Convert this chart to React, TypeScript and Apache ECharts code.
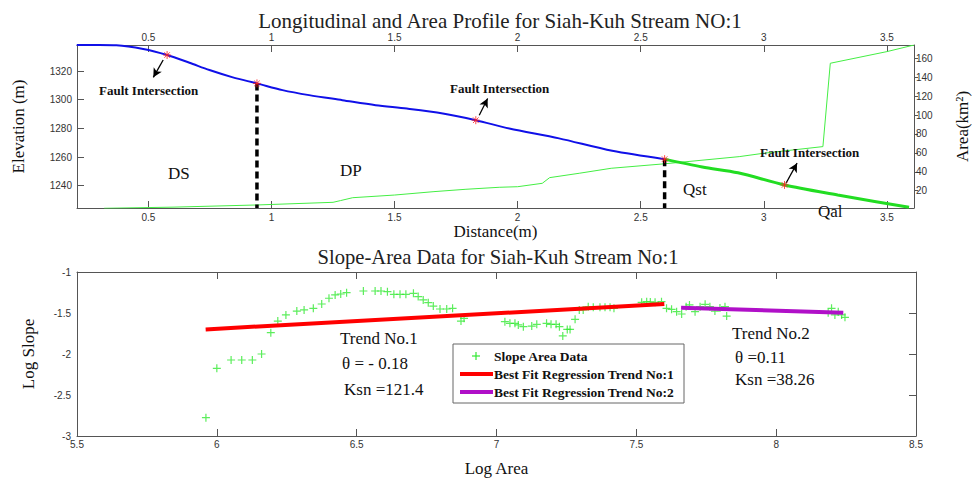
import React, { useEffect, useRef } from "react";
import * as echarts from "echarts";

// ---------- Top panel data ----------
const profileDist = [0.209, 0.3, 0.37, 0.479, 0.576, 0.667, 0.748, 0.843, 0.941, 1.045, 1.153, 1.288, 1.423, 1.55, 1.696, 1.83, 1.966, 2.168, 2.384, 2.597];
const profileElev = [1338.2, 1338.2, 1338.0, 1335.4, 1331.2, 1325.8, 1320.7, 1315.6, 1311.4, 1306.7, 1303.2, 1299.7, 1296.2, 1293.8, 1290.4, 1285.7, 1279.9, 1273.0, 1264.3, 1258.5];
const lowerDist = [2.597, 2.75, 2.895, 3.084, 3.3, 3.45, 3.59];
const lowerElev = [1258.5, 1253.0, 1249.0, 1240.5, 1233.5, 1229.0, 1224.9];
const areaDist = [0.32, 0.6, 0.94, 1.25, 1.28, 1.33, 1.5, 1.66, 1.79, 1.925, 2.0, 2.1, 2.13, 2.25, 2.38, 2.6, 2.9, 3.0, 3.24, 3.27, 3.5, 3.61];
const areaVal = [1.4, 2.6, 4.9, 7.7, 9.5, 12.6, 15.4, 19.0, 21.5, 23.6, 24.2, 27.8, 33.8, 38.4, 43.7, 48.5, 56.0, 59.6, 66.6, 154.7, 167.0, 174.0];
const faultDist = [0.576, 0.941, 1.83, 2.597, 3.084];
const faultElev = [1331.2, 1311.4, 1285.7, 1258.5, 1240.5];
const boundaryDist = [0.941, 2.597];
const boundaryElev = [1311.4, 1258.5];
const distTicks = [0.5, 1, 1.5, 2, 2.5, 3, 3.5];
const elevTicks = [1240, 1260, 1280, 1300, 1320];
const areaTicks = [20, 40, 60, 80, 100, 120, 140, 160];
// arrows: [fromDist, fromElev, toDist, toElev]
const arrows = [
  [0.56, 1327.7, 0.52, 1315.6],
  [1.844, 1289.2, 1.878, 1300.9],
  [3.09, 1241.7, 3.135, 1255.7],
];

// ---------- Bottom panel data ----------
const logArea = [5.961, 6.0, 6.051, 6.089, 6.127, 6.16, 6.193, 6.218, 6.247, 6.286, 6.312, 6.345, 6.375, 6.401, 6.423, 6.443, 6.464, 6.524, 6.566, 6.587, 6.61, 6.633, 6.655, 6.676, 6.703, 6.72, 6.738, 6.756, 6.774, 6.798, 6.822, 6.843, 6.873, 6.884, 7.03, 7.048, 7.066, 7.078, 7.096, 7.126, 7.144, 7.179, 7.195, 7.213, 7.225, 7.237, 7.253, 7.263, 7.281, 7.296, 7.31, 7.328, 7.346, 7.37, 7.388, 7.406, 7.42, 7.519, 7.537, 7.55, 7.567, 7.59, 7.608, 7.626, 7.644, 7.662, 7.678, 7.69, 7.71, 7.728, 7.746, 7.763, 7.781, 7.799, 7.817, 7.823, 8.186, 8.198, 8.21, 8.222, 8.234, 8.246];
const logSlope = [-2.777, -2.175, -2.073, -2.073, -2.073, -2.0, -1.74, -1.598, -1.524, -1.476, -1.463, -1.443, -1.39, -1.32, -1.28, -1.268, -1.252, -1.232, -1.232, -1.232, -1.24, -1.272, -1.272, -1.272, -1.26, -1.3, -1.34, -1.374, -1.415, -1.451, -1.451, -1.443, -1.598, -1.565, -1.606, -1.626, -1.626, -1.646, -1.667, -1.659, -1.638, -1.626, -1.638, -1.638, -1.667, -1.78, -1.7, -1.7, -1.577, -1.463, -1.463, -1.423, -1.43, -1.43, -1.43, -1.43, -1.443, -1.37, -1.362, -1.365, -1.37, -1.362, -1.443, -1.455, -1.484, -1.512, -1.423, -1.402, -1.484, -1.423, -1.394, -1.423, -1.476, -1.44, -1.423, -1.537, -1.496, -1.443, -1.524, -1.484, -1.524, -1.553];
const trend1X = [5.96, 7.6];
const trend1Y = [-1.7, -1.39];
const trend2X = [7.66, 8.24];
const trend2Y = [-1.435, -1.496];
const legendNames = ["Slope Area Data", "Best Fit Regression Trend No:1", "Best Fit Regression Trend No:2"];

const SERIF = "'Liberation Serif', 'Times New Roman', serif";
const SANS = "'Liberation Sans', Arial, sans-serif";
const AXIS_COLOR = "#555";
const LABEL_COLOR = "#333";
const GREEN_PTS = "#33e833";
const RED = "#ff0000";
const PURPLE = "#b010c8";

const ASTERISK = "path://M0,5L10,5M5,0L5,10M1.5,1.5L8.5,8.5M8.5,1.5L1.5,8.5";
const PLUS = "path://M0,5L10,5M5,0L5,10";

const zip = (a: number[], b: number[]) => a.map((v, i) => [v, b[i]]);

export default function App() {
  const ref = useRef<HTMLDivElement>(null);
  useEffect(() => {
    document.body.style.margin = "0";
    if (!ref.current) return;
    const chart = echarts.init(ref.current, undefined, { renderer: "svg" });
    const elevMin = 1224.4, elevMax = 1338.2;

    const axisLine = { show: true, lineStyle: { color: AXIS_COLOR, width: 1 } };
    const fmt = (v: number) => String(v);
    const lbl = { color: LABEL_COLOR, fontSize: 10, fontFamily: SANS, formatter: fmt };
    const nameStyle = { fontFamily: SERIF, fontSize: 17, color: "#111" };

    const text = (t: string, x: number, y: number, size: number, bold = false) => ({
      type: "text",
      x,
      y,
      z: 100,
      style: {
        text: t,
        fill: "#111",
        font: `${bold ? "bold " : ""}${size}px ${SERIF}`,
        textAlign: "left",
        textVerticalAlign: "middle",
      },
    });

    // legend drawn as graphic
    const lgX = 453, lgY = 344, lgW = 231, lgH = 59;
    const rowY = [356, 374, 392];
    const legendGraphic: any[] = [
      { type: "rect", z: 99, shape: { x: lgX, y: lgY, width: lgW, height: lgH }, style: { fill: "#fff", stroke: "#666", lineWidth: 1 } },
      { type: "line", z: 100, shape: { x1: 472, y1: rowY[0], x2: 480, y2: rowY[0] }, style: { stroke: GREEN_PTS, lineWidth: 1.2 } },
      { type: "line", z: 100, shape: { x1: 476, y1: rowY[0] - 4, x2: 476, y2: rowY[0] + 4 }, style: { stroke: GREEN_PTS, lineWidth: 1.2 } },
      { type: "line", z: 100, shape: { x1: 460, y1: rowY[1], x2: 493, y2: rowY[1] }, style: { stroke: RED, lineWidth: 4 } },
      { type: "line", z: 100, shape: { x1: 460, y1: rowY[2], x2: 493, y2: rowY[2] }, style: { stroke: PURPLE, lineWidth: 4 } },
      ...legendNames.map((n, i) => text(n, 494, rowY[i], 13.5, true)),
    ];

    const option: any = {
      animation: false,
      backgroundColor: "#fff",
      title: [
        {
          text: "Longitudinal and Area Profile for Siah-Kuh Stream NO:1",
          left: 495,
          top: 5,
          textAlign: "center",
          textStyle: { fontFamily: SERIF, fontSize: 21, fontWeight: "normal", color: "#222" },
        },
        {
          text: "Slope-Area Data for Siah-Kuh Stream No:1",
          left: 493,
          top: 241,
          textAlign: "center",
          textStyle: { fontFamily: SERIF, fontSize: 20.6, fontWeight: "normal", color: "#222" },
        },
      ],
      grid: [
        { left: 77, top: 45, width: 838, height: 163 },
        { left: 77, top: 272, width: 839, height: 164 },
      ],
      xAxis: [
        {
          gridIndex: 0, type: "value", position: "bottom", min: 0.21, max: 3.61,
          name: "Distance(m)", nameLocation: "middle", nameGap: 12, nameTextStyle: nameStyle,
          axisLine, splitLine: { show: false },
          axisTick: { show: true, inside: true, length: 7, customValues: distTicks, lineStyle: { color: AXIS_COLOR } },
          axisLabel: { ...lbl, margin: 4, customValues: distTicks },
        },
        {
          gridIndex: 0, type: "value", position: "top", min: 0.21, max: 3.61,
          axisLine, splitLine: { show: false },
          axisTick: { show: true, inside: true, length: 7, customValues: distTicks, lineStyle: { color: AXIS_COLOR } },
          axisLabel: { ...lbl, margin: 3, customValues: distTicks },
        },
        {
          gridIndex: 1, type: "value", position: "bottom", min: 5.5, max: 8.5, interval: 0.5,
          name: "Log Area", nameLocation: "middle", nameGap: 24, nameTextStyle: nameStyle,
          axisLine, splitLine: { show: false },
          axisTick: { show: true, inside: true, length: 7, lineStyle: { color: AXIS_COLOR } },
          axisLabel: { ...lbl, margin: 3 },
        },
        {
          gridIndex: 1, type: "value", position: "top", min: 5.5, max: 8.5, interval: 0.5,
          axisLine, splitLine: { show: false },
          axisTick: { show: true, inside: true, length: 7, lineStyle: { color: AXIS_COLOR } },
          axisLabel: { show: false },
        },
      ],
      yAxis: [
        {
          gridIndex: 0, type: "value", position: "left", min: elevMin, max: elevMax,
          name: "Elevation (m)", nameLocation: "middle", nameGap: 50, nameRotate: 90, nameTextStyle: nameStyle,
          axisLine, splitLine: { show: false },
          axisTick: { show: true, inside: true, length: 7, customValues: elevTicks, lineStyle: { color: AXIS_COLOR } },
          axisLabel: { ...lbl, margin: 5, customValues: elevTicks },
        },
        {
          gridIndex: 0, type: "value", position: "right", min: 1.7, max: 174,
          name: "Area(km²)", nameLocation: "middle", nameGap: 40, nameRotate: 90, nameTextStyle: nameStyle,
          axisLine, splitLine: { show: false },
          axisTick: { show: true, inside: false, length: 4, customValues: areaTicks, lineStyle: { color: AXIS_COLOR } },
          axisLabel: { ...lbl, margin: 2, customValues: areaTicks },
        },
        {
          gridIndex: 1, type: "value", position: "left", min: -3, max: -1, interval: 0.5,
          name: "Log Slope", nameLocation: "middle", nameGap: 40, nameRotate: 90, nameTextStyle: nameStyle,
          axisLine, splitLine: { show: false },
          axisTick: { show: false },
          axisLabel: { ...lbl, margin: 6 },
        },
        {
          gridIndex: 1, type: "value", position: "right", min: -3, max: -1, interval: 0.5,
          axisLine, splitLine: { show: false },
          axisTick: { show: true, inside: true, length: 7, lineStyle: { color: AXIS_COLOR } },
          axisLabel: { show: false },
        },
      ],
      series: [
        {
          type: "line", name: "Area", xAxisIndex: 0, yAxisIndex: 1,
          data: zip(areaDist, areaVal), showSymbol: false,
          lineStyle: { color: "#44ee44", width: 1 }, z: 2,
        },
        {
          type: "line", name: "Profile", xAxisIndex: 0, yAxisIndex: 0,
          data: zip(profileDist, profileElev), showSymbol: false, smooth: 0.3,
          lineStyle: { color: "#1010e8", width: 2 }, z: 3,
        },
        {
          type: "line", name: "ProfileLower", xAxisIndex: 0, yAxisIndex: 0,
          data: zip(lowerDist, lowerElev), showSymbol: false, smooth: 0.3,
          lineStyle: { color: "#22dd22", width: 3 }, z: 3,
        },
        ...boundaryDist.map((d, i) => ({
          type: "line", name: "Boundary" + i, xAxisIndex: 0, yAxisIndex: 0,
          data: [[d, boundaryElev[i]], [d, elevMin]], showSymbol: false,
          lineStyle: { color: "#000", width: 3.5, type: [7, 4] }, z: 4,
        })),
        {
          type: "scatter", name: "Faults", xAxisIndex: 0, yAxisIndex: 0,
          data: zip(faultDist, faultElev), symbol: ASTERISK, symbolSize: 8,
          itemStyle: { color: "rgba(0,0,0,0)", borderColor: "#ff2020", borderWidth: 1 }, z: 6,
          markLine: {
            silent: true,
            symbol: ["none", "arrow"],
            symbolSize: [7, 9],
            label: { show: false },
            lineStyle: { color: "#000", width: 1.3, type: "solid" },
            data: arrows.map((a) => [{ coord: [a[0], a[1]] }, { coord: [a[2], a[3]] }]),
          },
        },
        {
          type: "scatter", name: legendNames[0], xAxisIndex: 2, yAxisIndex: 2,
          data: zip(logArea, logSlope), symbol: PLUS, symbolSize: 8,
          itemStyle: { color: "rgba(0,0,0,0)", borderColor: GREEN_PTS, borderWidth: 1.2 }, z: 3,
        },
        {
          type: "line", name: legendNames[1], xAxisIndex: 2, yAxisIndex: 2,
          data: zip(trend1X, trend1Y), showSymbol: false,
          lineStyle: { color: RED, width: 4 }, itemStyle: { color: RED }, z: 4,
        },
        {
          type: "line", name: legendNames[2], xAxisIndex: 2, yAxisIndex: 2,
          data: zip(trend2X, trend2Y), showSymbol: false,
          lineStyle: { color: PURPLE, width: 4 }, itemStyle: { color: PURPLE }, z: 4,
        },
      ],
      graphic: [
        text("Fault Intersection", 99, 90, 13, true),
        text("Fault Intersection", 450, 88, 13, true),
        text("Fault Intersection", 760, 152, 13, true),
        text("DS", 168, 173, 17),
        text("DP", 340, 170, 17),
        text("Qst", 683, 189, 17),
        text("Qal", 818, 211, 17),
        text("Trend No.1", 340, 338, 17),
        text("θ = - 0.18", 342, 363, 17),
        text("Ksn =121.4", 344, 389, 17),
        text("Trend No.2", 732, 333, 17),
        text("θ =0.11", 735, 357, 17),
        text("Ksn =38.26", 735, 379, 17),
        ...legendGraphic,
      ],
    };
    chart.setOption(option);
    return () => chart.dispose();
  }, []);
  return <div ref={ref} style={{ width: 979, height: 482 }} />;
}
